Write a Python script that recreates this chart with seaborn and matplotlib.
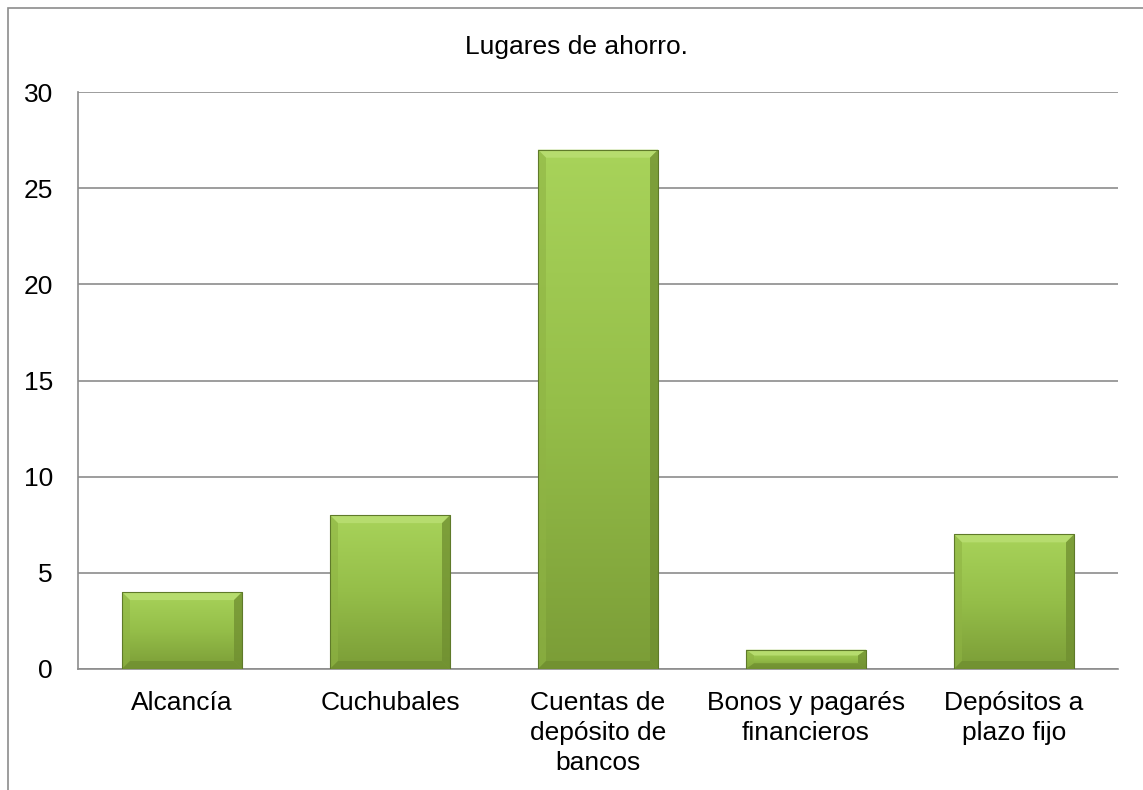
import numpy as np
import pandas as pd
import matplotlib
matplotlib.use("Agg")
import matplotlib.pyplot as plt
import seaborn as sns
from matplotlib.patches import Rectangle, Polygon
from matplotlib.colors import LinearSegmentedColormap

categories = ["Alcancía", "Cuchubales", "Cuentas de\ndepósito de\nbancos",
              "Bonos y pagarés\nfinancieros", "Depósitos a\nplazo fijo"]
values = [4, 8, 27, 1, 7]
yticks = [0, 5, 10, 15, 20, 25, 30]
title = "Lugares de ahorro."

sns.set_theme(style="white")
plt.rcParams["font.family"] = ["Liberation Sans", "DejaVu Sans"]
plt.rcParams["text.color"] = "#000000"

W, H = 1143, 790
FS = 19
fig = plt.figure(figsize=(W / 100, H / 100), dpi=100)
ax = fig.add_axes([78 / W, 1 - 669 / H, (1118 - 78) / W, (669 - 92) / H])

df = pd.DataFrame({"cat": categories, "val": values})
sns.barplot(data=df, x="cat", y="val", ax=ax, color="#9bc850", width=0.577,
            saturation=1, edgecolor="none", zorder=3)

ax.set_ylim(0, 30)
ax.set_yticks(yticks)
ax.set_xlim(-0.5, len(categories) - 0.5)
ax.set_xlabel("")
ax.set_ylabel("")
ax.grid(axis="y", color="#8c8c8c", linewidth=1.2, zorder=0)
ax.grid(axis="x", visible=False)
for s in ["top", "right"]:
    ax.spines[s].set_visible(False)
for s in ["left", "bottom"]:
    ax.spines[s].set_color("#8c8c8c")
    ax.spines[s].set_linewidth(1.2)
ax.tick_params(axis="both", labelsize=FS, colors="#000000", length=0)
ax.tick_params(axis="y", pad=18)
ax.tick_params(axis="x", pad=16)
for lbl in ax.get_xticklabels():
    lbl.set_linespacing(1.3)

# gradient fill with bevelled edges on each bar
cmap = LinearSegmentedColormap.from_list("g", ["#7b9d37", "#95be49", "#a8d35a"])
grad = np.linspace(0, 1, 256).reshape(-1, 1)
px_x = 1.0 / 208.0   # data units per pixel in x
px_y = 30.0 / 577.0  # data units per pixel in y
for patch in list(ax.patches):
    x0, y0 = patch.get_x(), patch.get_y()
    w, h = patch.get_width(), patch.get_height()
    patch.set_alpha(0)
    im = ax.imshow(grad, extent=[x0, x0 + w, y0, y0 + h], origin="lower",
                   cmap=cmap, aspect="auto", zorder=3.1)
    clip = Rectangle((x0, y0), w, h, transform=ax.transData)
    im.set_clip_path(clip)
    bx = 8 * px_x
    by = min(8 * px_y, h * 0.3)
    # top bevel (light)
    ax.add_patch(Polygon([(x0, y0 + h), (x0 + w, y0 + h), (x0 + w - bx, y0 + h - by),
                          (x0 + bx, y0 + h - by)], closed=True,
                         facecolor="#b6dc6e", edgecolor="none", zorder=3.2))
    # left bevel
    ax.add_patch(Polygon([(x0, y0), (x0, y0 + h), (x0 + bx, y0 + h - by),
                          (x0 + bx, y0 + by)], closed=True,
                         facecolor="#8fb444", edgecolor="none", alpha=0.6, zorder=3.2))
    # right bevel (dark)
    ax.add_patch(Polygon([(x0 + w, y0), (x0 + w, y0 + h), (x0 + w - bx, y0 + h - by),
                          (x0 + w - bx, y0 + by)], closed=True,
                         facecolor="#6f8e30", edgecolor="none", alpha=0.75, zorder=3.2))
    # bottom bevel
    ax.add_patch(Polygon([(x0, y0), (x0 + w, y0), (x0 + w - bx, y0 + by),
                          (x0 + bx, y0 + by)], closed=True,
                         facecolor="#6f8e30", edgecolor="none", alpha=0.75, zorder=3.2))
    ax.add_patch(Rectangle((x0, y0), w, h, facecolor="none", edgecolor="#5f7a2a",
                           linewidth=0.8, zorder=3.3))

fig.text(576 / W, 1 - 47 / H, title, ha="center", va="center", fontsize=FS,
         color="#000000")

# outer chart frame
fig.add_artist(Rectangle((8 / W, -0.01), 1.02, 1 - 8 / H + 0.01,
                         transform=fig.transFigure, fill=False,
                         edgecolor="#8c8c8c", linewidth=1.2))

fig.savefig("out.png", dpi=100, facecolor="white")
